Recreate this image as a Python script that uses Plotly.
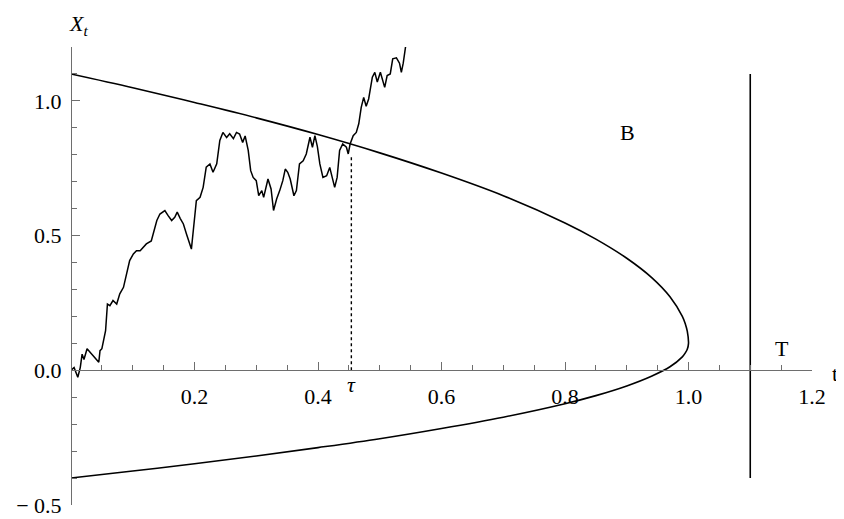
import plotly.graph_objects as go

# Brownian path X_t
path_t = [0.000, 0.005, 0.011, 0.015, 0.018, 0.021, 0.026, 0.031, 0.036, 0.042,
          0.045, 0.047, 0.050, 0.056, 0.059, 0.063, 0.068, 0.074, 0.079, 0.085,
          0.090, 0.095, 0.101, 0.106, 0.112, 0.117, 0.122, 0.130, 0.133, 0.139,
          0.144, 0.152, 0.157, 0.163, 0.168, 0.172, 0.177, 0.182, 0.187, 0.193,
          0.195, 0.198, 0.203, 0.209, 0.214, 0.219, 0.225, 0.230, 0.236, 0.241,
          0.246, 0.252, 0.257, 0.263, 0.268, 0.273, 0.278, 0.282, 0.287, 0.291,
          0.295, 0.300, 0.304, 0.309, 0.312, 0.319, 0.324, 0.328, 0.333, 0.338,
          0.343, 0.347, 0.351, 0.355, 0.361, 0.365, 0.370, 0.376, 0.381, 0.387,
          0.391, 0.395, 0.399, 0.403, 0.408, 0.414, 0.419, 0.423, 0.427, 0.431,
          0.435, 0.440, 0.446, 0.449, 0.452, 0.457, 0.462, 0.466, 0.470, 0.474,
          0.478, 0.482, 0.488, 0.492, 0.496, 0.501, 0.505, 0.508, 0.512, 0.517,
          0.521, 0.527, 0.532, 0.535, 0.538, 0.543]
path_x = [0.000, 0.010, -0.026, 0.010, 0.060, 0.040, 0.080, 0.067, 0.050, 0.036,
          0.030, 0.073, 0.080, 0.147, 0.246, 0.240, 0.259, 0.246, 0.284, 0.308,
          0.358, 0.407, 0.432, 0.444, 0.444, 0.457, 0.469, 0.480, 0.506, 0.556,
          0.580, 0.593, 0.575, 0.556, 0.568, 0.587, 0.563, 0.543, 0.506, 0.457,
          0.450, 0.518, 0.630, 0.642, 0.679, 0.754, 0.766, 0.735, 0.766, 0.853,
          0.883, 0.864, 0.878, 0.860, 0.883, 0.877, 0.846, 0.870, 0.816, 0.741,
          0.716, 0.704, 0.648, 0.667, 0.642, 0.710, 0.673, 0.593, 0.636, 0.667,
          0.704, 0.747, 0.735, 0.710, 0.648, 0.667, 0.766, 0.778, 0.803, 0.865,
          0.828, 0.871, 0.830, 0.766, 0.716, 0.722, 0.753, 0.716, 0.679, 0.716,
          0.816, 0.840, 0.828, 0.803, 0.840, 0.871, 0.883, 0.915, 0.976, 1.013,
          0.980, 1.007, 1.088, 1.106, 1.070, 1.106, 1.075, 1.050, 1.094, 1.100,
          1.156, 1.160, 1.140, 1.106, 1.140, 1.220]

# boundary B (upper branch down to the tip, then lower branch back)
bound_t = [0.0, 0.1, 0.2, 0.3, 0.4, 0.5, 0.6, 0.7, 0.8, 0.85, 0.9, 0.94, 0.97,
           0.99, 0.995, 0.998, 1.0, 0.998, 0.995, 0.99, 0.97, 0.94, 0.9, 0.85,
           0.8, 0.7, 0.6, 0.5, 0.4, 0.3, 0.2, 0.1, 0.0]
bound_x = [1.1, 1.049, 0.994, 0.937, 0.875, 0.807, 0.732, 0.648, 0.547, 0.487,
           0.416, 0.345, 0.273, 0.2, 0.171, 0.145, 0.1, 0.078, 0.065, 0.05,
           0.013, -0.022, -0.058, -0.094, -0.124, -0.174, -0.216, -0.254,
           -0.287, -0.318, -0.347, -0.374, -0.4]

T_time = 1.1
T_span = [-0.4, 1.1]
tau = 0.454
tau_level = 0.8

x_ticks = [0.2, 0.4, 0.6, 0.8, 1.0, 1.2]
x_labels = ["0.2", "0.4", "0.6", "0.8", "1.0", "1.2"]
y_ticks = [-0.5, 0.0, 0.5, 1.0]
y_labels = ["\u2212 0.5", "0.0", "0.5", "1.0"]

serif = "Liberation Serif, Times New Roman, serif"
axis_grey = "#6e6e6e"
fs = 22

fig = go.Figure()
fig.add_trace(go.Scatter(x=bound_t, y=bound_x, mode="lines", line_shape="spline",
                         line=dict(color="black", width=1.6)))
fig.add_trace(go.Scatter(x=path_t, y=path_x, mode="lines",
                         line=dict(color="black", width=1.5)))
fig.add_trace(go.Scatter(x=[T_time, T_time], y=T_span, mode="lines",
                         line=dict(color="black", width=1.6)))
fig.add_trace(go.Scatter(x=[tau, tau], y=[0, tau_level], mode="lines",
                         line=dict(color="black", width=1.4, dash="3px,3px")))

fig.update_xaxes(range=[0, 1.2], anchor="free", position=0.5 / 1.7, automargin=False,
                 showline=True, linecolor=axis_grey, linewidth=1, showgrid=False,
                 zeroline=False, tickmode="array", tickvals=x_ticks, ticktext=x_labels,
                 ticks="inside", ticklen=8, tickcolor=axis_grey, ticklabelstandoff=6,
                 minor=dict(dtick=0.05, tick0=0, ticks="inside", ticklen=5,
                            tickcolor=axis_grey),
                 tickfont=dict(family=serif, size=fs, color="black"))
fig.update_yaxes(range=[-0.5, 1.2], anchor="free", position=0, automargin=False,
                 showline=True, linecolor=axis_grey, linewidth=1, showgrid=False,
                 zeroline=False, tickmode="array", tickvals=y_ticks, ticktext=y_labels,
                 ticks="inside", ticklen=8, tickcolor=axis_grey, ticklabelstandoff=5,
                 minor=dict(dtick=0.1, tick0=0, ticks="inside", ticklen=5,
                            tickcolor=axis_grey),
                 tickfont=dict(family=serif, size=fs, color="black"))

# labels inside the plot, in data units
notes = [
    dict(x=0.902, y=0.882, text="B"),
    dict(x=1.151, y=0.08, text="T"),
    dict(x=tau, y=-0.052, text="<i>τ</i>"),
]
for n in notes:
    fig.add_annotation(x=n["x"], y=n["y"], text=n["text"], showarrow=False,
                       xref="x", yref="y",
                       font=dict(family=serif, size=fs, color="black"))

# axis names sit outside the axis ranges
fig.add_annotation(x=1.0378, y=0.255, text="t", showarrow=False,
                   xref="paper", yref="paper",
                   font=dict(family=serif, size=fs, color="black"))
fig.add_annotation(x=-0.005, y=1.082, text="<i>X</i><sub><i>t</i></sub>", showarrow=False,
                   xref="paper", yref="paper",
                   font=dict(family=serif, size=fs, color="black"))

# page body adds an 8px margin, so the figure is 8px smaller on each side
fig.update_layout(width=836, height=511, showlegend=False,
                  plot_bgcolor="white", paper_bgcolor="white",
                  margin=dict(l=63, r=32, t=39, b=14))
fig.write_html("out.html")
